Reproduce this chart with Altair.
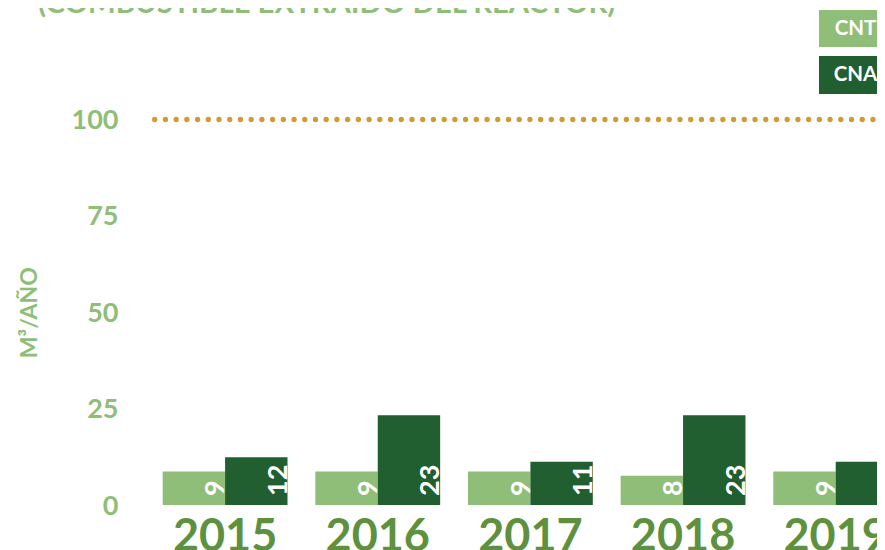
import altair as alt
import pandas as pd

years = ["2015", "2016", "2017", "2018", "2019"]
cnt_values = [8.7, 8.7, 8.7, 7.6, 8.7]
cna_values = [12.4, 23.3, 11.2, 23.3, 11.2]
series = ["CNT", "CNA"]
series_colors = ["#8FBE79", "#215E30"]
limit_value = [100]
y_ticks = [0, 25, 50, 75, 100]
title_text = "(COMBUSTIBLE EXTRAIDO DEL REACTOR)"
y_title = "M³/AÑO"

rows = []
for i, y in enumerate(years):
    rows.append({"year": y, "cat": "CNT", "value": cnt_values[i]})
    rows.append({"year": y, "cat": "CNA", "value": cna_values[i]})
df = pd.DataFrame(rows)

FONT = "Lato"
LIGHT = "#8FBE79"
DARK = "#215E30"
YEARC = "#5E913D"
GOLD = "#D19A33"

x_enc = alt.X(
    "year:N",
    sort=years,
    scale=alt.Scale(range=[0, 756.8], paddingInner=0.1824, paddingOuter=0.07),
    axis=alt.Axis(
        title=None, labelAngle=0, labelFont=FONT, labelFontSize=45,
        labelFontWeight="bold", labelColor=YEARC, labelPadding=9,
        tickSize=0, ticks=False, domain=False, grid=False,
    ),
)
y_enc = alt.Y(
    "value:Q",
    scale=alt.Scale(domain=[0, 100], nice=False),
    axis=alt.Axis(
        title=y_title, values=y_ticks, labelFont=FONT, labelFontSize=27,
        labelFontWeight="bold", labelColor=LIGHT, labelPadding=34,
        labelOffset=1,
        tickSize=0, ticks=False, domain=False, grid=False,
        titleFont=FONT, titleFontSize=23, titleFontWeight="bold",
        titleColor=LIGHT, titleX=-116, titleBaseline="alphabetic",
    ),
)
xoff = alt.XOffset("cat:N", sort=series,
                   scale=alt.Scale(domain=series, paddingInner=0, paddingOuter=0))
color = alt.Color("cat:N", scale=alt.Scale(domain=series, range=series_colors), legend=None)

base = alt.Chart(df)
bars = base.mark_bar().encode(x=x_enc, y=y_enc, xOffset=xoff, color=color)
labels = base.mark_text(
    angle=270, align="left", baseline="alphabetic", dx=9, dy=30.5,
    font=FONT, fontSize=27, fontWeight="bold", color="white",
).encode(
    x=alt.X("year:N", sort=years),
    xOffset=alt.XOffset("cat:N", sort=series),
    y=alt.datum(0),
    text=alt.Text("value:Q", format=".0f"),
)

rule = alt.Chart(pd.DataFrame({"limit": limit_value})).mark_rule(
    color=GOLD, strokeWidth=5.3, strokeDash=[0.01, 10.71], strokeCap="round",
    strokeDashOffset=8.02,
).encode(y="limit:Q", x=alt.value(0), x2=alt.value(725))

title = alt.Chart(pd.DataFrame({"t": [title_text]})).mark_text(
    align="left", baseline="alphabetic", font=FONT, fontSize=29.3,
    fontWeight="bold", color=LIGHT,
).encode(text="t:N", x=alt.value(-114), y=alt.value(-106.5))

leg_df = pd.DataFrame({"cat": series})
leg_cnt_box = alt.Chart(leg_df[leg_df.cat == "CNT"]).mark_rect(color=LIGHT).encode(
    x=alt.value(667), x2=alt.value(743), y=alt.value(-109.5), y2=alt.value(-72.5))
leg_cna_box = alt.Chart(leg_df[leg_df.cat == "CNA"]).mark_rect(color=DARK).encode(
    x=alt.value(667), x2=alt.value(743), y=alt.value(-63.5), y2=alt.value(-25.5))
leg_cnt_txt = alt.Chart(leg_df[leg_df.cat == "CNT"]).mark_text(
    font=FONT, fontSize=20.5, fontWeight="bold", color="white", baseline="middle",
    align="center").encode(text="cat:N", x=alt.value(703.5), y=alt.value(-90.5))
leg_cna_txt = alt.Chart(leg_df[leg_df.cat == "CNA"]).mark_text(
    font=FONT, fontSize=20.5, fontWeight="bold", color="white", baseline="middle",
    align="center").encode(text="cat:N", x=alt.value(703.5), y=alt.value(-44.5))

chart = alt.layer(
    bars, labels, rule, title, leg_cnt_box, leg_cna_box, leg_cnt_txt, leg_cna_txt
).properties(
    width=725, height=385.5,
    padding={"left": 144, "top": 111.5, "right": 0, "bottom": 45},
    autosize=alt.AutoSizeParams(type="none"),
    background="white",
).configure_view(stroke=None, strokeWidth=0)

chart.save("out.html", embed_options={"renderer": "svg", "actions": False})
